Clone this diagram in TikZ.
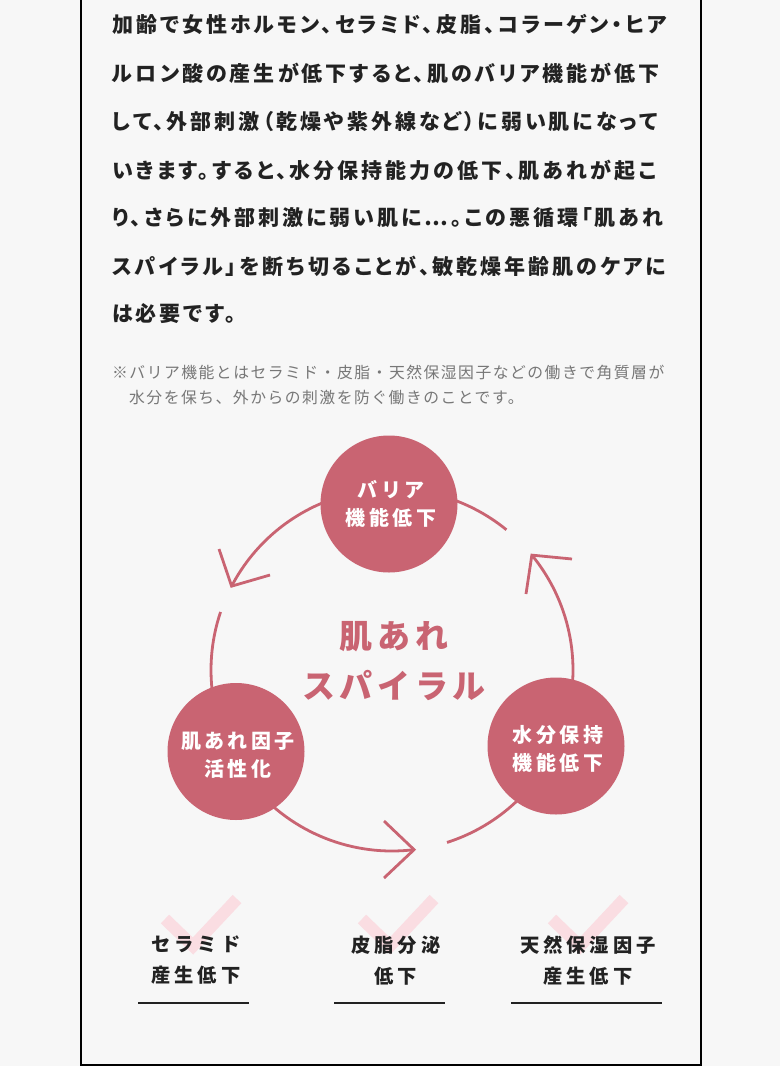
\documentclass[tikz,border=0pt]{standalone}
\usepackage{fontspec}
\usetikzlibrary{calc}
\newfontfamily\bodyfont[RawFeature=+palt, LetterSpace=14.3]{Noto Sans CJK JP}
\newfontfamily\notefont[LetterSpace=9.5]{Noto Sans CJK JP}
\newfontfamily\circfont[LetterSpace=17]{Noto Sans CJK JP}
\newfontfamily\bigfont[LetterSpace=14]{Noto Sans CJK JP}
\newfontfamily\itemfont[LetterSpace=20]{Noto Sans CJK JP}
\definecolor{bg}{HTML}{F7F7F7}
\definecolor{rose}{HTML}{C96472}
\definecolor{pale}{HTML}{FADDE2}
\definecolor{ink}{HTML}{222222}
\definecolor{notegray}{HTML}{777777}
\tikzset{
  frameline/.style={line width=2.4pt, draw=black},
  body/.style={anchor=west, inner sep=0pt, text=ink, font=\bodyfont\bfseries\fontsize{21}{21}\selectfont},
  note/.style={anchor=west, inner sep=0pt, text=notegray, font=\notefont\fontsize{15.8}{15.8}\selectfont},
  bubble/.style={circle, fill=rose, minimum size=137pt, inner sep=0pt},
  bubbletext/.style={text=white, align=center, inner sep=0pt, font=\circfont\bfseries\fontsize{20}{28}\selectfont},
  bigtext/.style={text=rose, align=center, inner sep=0pt, font=\bigfont\bfseries\fontsize{33}{50}\selectfont},
  cycle/.style={draw=rose, line width=2.8pt},
  chev/.style={draw=rose, line width=2.8pt, line cap=butt, line join=miter},
  tick/.style={draw=pale, line width=12pt, line join=miter},
  item/.style={text=ink, align=center, inner sep=0pt, font=\itemfont\bfseries\fontsize{19.3}{31}\selectfont},
  underline/.style={draw=ink, line width=2pt}
}
\begin{document}
\begin{tikzpicture}[x=1pt,y=-1pt]
\fill[bg] (0,0) rectangle (780,1066);
\useasboundingbox (0,0) rectangle (780,1066);
\draw[frameline] (81,-5) -- (81,1064.7) -- (701,1064.7) -- (701,-5);

% paragraph
\node[body] (l1) at (112,24) {加齢で女性ホルモン、セラミド、皮脂、コラーゲン・ヒア};
\node[body] (l2) at (112,73) {ルロン酸の産生が低下すると、肌のバリア機能が低下};
\node[body] (l3) at (112,122) {して、外部刺激（乾燥や紫外線など）に弱い肌になって};
\node[body] (l4) at (112,170) {いきます。すると、水分保持能力の低下、肌あれが起こ};
\node[body] (l5) at (112,218) {り、さらに外部刺激に弱い肌に…。この悪循環「肌あれ};
\node[body] (l6) at (112,266) {スパイラル」を断ち切ることが、敏乾燥年齢肌のケアに};
\node[body] (l7) at (112,314) {は必要です。};

% note
\node[note] (n1) at (112,372) {※バリア機能とはセラミド・皮脂・天然保湿因子などの働きで角質層が};
\node[note] (n2) at (129,398) {水分を保ち、外からの刺激を防ぐ働きのことです。};

% cycle arcs (centre 392,670 ; radius 181)
\coordinate (C) at (392,670);
\draw[cycle] ($(C)+(-105:181)$) arc[start angle=-105, end angle=-152.4, radius=181] coordinate (tipL);
\draw[cycle] ($(C)+(-75:181)$) arc[start angle=-75, end angle=-50.8, radius=181];
\draw[cycle] ($(C)+(-39.4:181)$) coordinate (tipR) arc[start angle=-39.4, end angle=15, radius=181];
\draw[cycle] ($(C)+(40:181)$) arc[start angle=40, end angle=72.3, radius=181];
\draw[cycle] ($(C)+(140:181)$) arc[start angle=140, end angle=83, radius=181] coordinate (tipB);
\draw[cycle] ($(C)+(-161.3:181)$) arc[start angle=-161.3, end angle=-190, radius=181];

% arrow heads
\coordinate (aL1) at (219,549); \coordinate (aL2) at (270,575);
\coordinate (aR1) at (572,559); \coordinate (aR2) at (526,594);
\coordinate (aB1) at (384,821); \coordinate (aB2) at (384,878);
\draw[chev] (aL1) -- (tipL) -- (aL2);
\draw[chev] (aR1) -- (tipR) -- (aR2);
\draw[chev] (aB1) -- (tipB) -- (aB2);

% circles
\node[bubble] (barrier) at (389,504) {};
\node[bubble] (skin) at (236,751.5) {};
\node[bubble] (water) at (556,746) {};
\node[bubbletext] (barrier-t) at (391,504) {バリア\\機能低下};
\node[bubbletext] (skin-t) at (238,755) {肌あれ因子\\活性化};
\node[bubbletext] (water-t) at (558,748.5) {水分保持\\機能低下};

\node[bigtext] (spiral) at (394,661) {肌あれ\\スパイラル};

% checks
\draw[tick] (165,919) -- (193,946) -- (237,899);
\draw[tick] (362,919) -- (390,946) -- (434,899);
\draw[tick] (552,919) -- (580,946) -- (624,899);

\node[item] (cer) at (196,960.5) {セラミド\\産生低下};
\node[item] (sebum) at (396,960.5) {皮脂分泌\\低下};
\node[item] (nmf) at (588,960.5) {天然保湿因子\\産生低下};

\draw[underline] (138,1002.5) -- (249,1002.5);
\draw[underline] (334,1002.5) -- (445,1002.5);
\draw[underline] (511,1002.5) -- (662,1002.5);
\end{tikzpicture}
\end{document}
